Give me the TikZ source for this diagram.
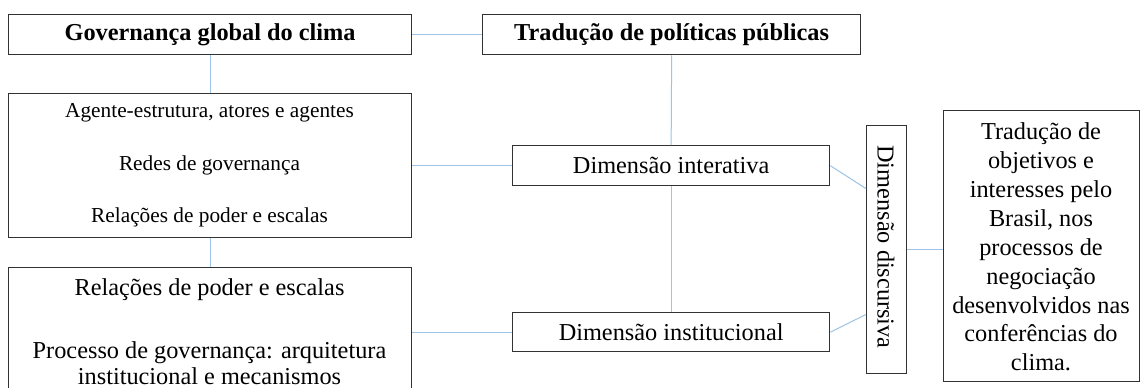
\documentclass[tikz,border=0pt]{standalone}
\usepackage{fontspec}
\setmainfont{Liberation Serif}
\usetikzlibrary{calc}
\definecolor{linkblue}{RGB}{157,195,230}
\definecolor{boxline}{RGB}{50,50,50}
\begin{document}
\begin{tikzpicture}[x=1pt,y=-1pt,
  box/.style={draw=boxline, line width=1.3pt, inner sep=0pt, anchor=north west},
  conn/.style={draw=linkblue, line width=1pt},
  big/.style={font=\fontsize{24.3}{28.9}\selectfont},
  mid/.style={font=\fontsize{21.3}{25}\selectfont},
  head/.style={font=\fontsize{24.3}{28}\selectfont\bfseries},
  lbl/.style={inner sep=0pt, align=center}]
\clip (0,0) rectangle (1140,388);
\fill[white] (0,0) rectangle (1140,388);
% boxes
\node[box, minimum width=403pt, minimum height=40pt, head] (gov) at (8,14) {Governança global do clima};
\node[box, minimum width=378pt, minimum height=40pt, head] (trad) at (482,14) {Tradução de políticas públicas};
\node[box, minimum width=403pt, minimum height=144pt] (redes) at (8,93) {};
\node[box, minimum width=403pt, minimum height=128pt] (proc) at (8,267) {};
\node[box, minimum width=317pt, minimum height=40pt, big] (inter) at (512,145) {Dimensão interativa};
\node[box, minimum width=317pt, minimum height=39pt, big] (inst) at (512,312) {Dimensão institucional};
\node[box, minimum width=40pt, minimum height=248pt] (disc) at (866,125) {};
\node[box, minimum width=196pt, minimum height=271pt] (obj) at (943,110) {};
% texts
\node[lbl, mid] (r1) at (209.5,113) {Agente-estrutura, atores e agentes};
\node[lbl, mid] (r2) at (209.5,165) {Redes de governança};
\node[lbl, mid] (r3) at (209.5,217) {Relações de poder e escalas};
\node[lbl, big] (p1) at (209.5,290) {Relações de poder e escalas};
\node[lbl, font=\fontsize{24.3}{25.5}\selectfont] (p2) at (209.5,363) {Processo de governança: arquitetura\\institucional e mecanismos};
\node[lbl, big, rotate=-90] (dt) at (886,247) {Dimensão discursiva};
\node[lbl, big] (ot) at (1041,247) {Tradução de\\objetivos e\\interesses pelo\\Brasil, nos\\processos de\\negociação\\desenvolvidos nas\\conferências do\\clima.};
% connectors
\draw[conn] (gov.east) -- (trad.west);
\draw[conn] (gov.south) -- (redes.north);
\draw[conn] (redes.south) -- (proc.north);
\draw[conn] (redes.east) -- (inter.west);
\draw[conn] (proc.east |- inst.west) -- (inst.west);
\draw[conn] (trad.south) -- (inter.north);
\draw[conn] (inter.south) -- (inst.north);
\draw[conn] (inter.east) -- ($(disc.north west)!0.255!(disc.south west)$);
\draw[conn] (inst.east) -- ($(disc.north west)!0.76!(disc.south west)$);
\draw[conn] (disc.east) -- (obj.west |- disc.east);
\end{tikzpicture}
\end{document}
